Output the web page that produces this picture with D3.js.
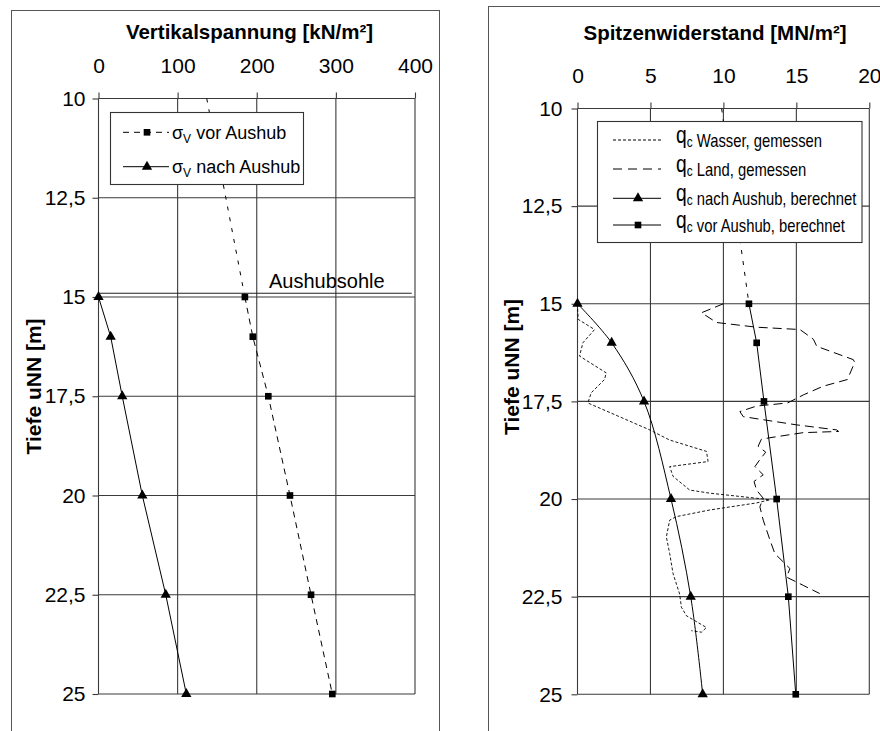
<!DOCTYPE html>
<html><head><meta charset="utf-8">
<script src="https://cdn.jsdelivr.net/npm/d3@7"></script>
<style>
body{margin:0;background:#fff}
svg{display:block}
text{font-family:"Liberation Sans",Arial,Helvetica,sans-serif;fill:#000}
</style>
</head><body>
<svg id="chart" width="880" height="731"></svg>
<script>
// ---------- data ----------
const depthTicks = [10, 12.5, 15, 17.5, 20, 22.5, 25];
const depthTickLabels = ["10", "12,5", "15", "17,5", "20", "22,5", "25"];
const stressTicks = [0, 100, 200, 300, 400];
const qcTicks = [0, 5, 10, 15, 20];

// left chart: Vertikalspannung [kN/m²]
const sigmaDepths = [15, 16, 17.5, 20, 22.5, 25];
const sigmaVor = [185, 195, 214.6, 242, 268.6, 295.5];
const sigmaNach = [0, 15.4, 30, 55.4, 85, 111];
const sigmaVorTopDepths = [10, 15];
const sigmaVorTop = [136.8, 185];

// right chart: Spitzenwiderstand [MN/m²]
const qcDepths = [15, 16, 17.5, 20, 22.5, 25];
const qcVor = [11.75, 12.28, 12.78, 13.65, 14.45, 14.96];
const qcNach = [0, 2.34, 4.56, 6.41, 7.76, 8.58];
const qcVorTopDepths = [10, 15];
const qcVorTop = [9.88, 11.75];

const wasserDepths = [15.0, 15.1, 15.4, 15.66, 16.0, 16.34, 16.77, 16.94, 17.28, 17.54, 18.23, 18.49, 18.78, 19.04, 19.17, 19.42, 19.77, 19.85, 19.98, 20.02, 20.1, 20.28, 20.45, 20.54, 20.97, 21.4, 21.91, 22.43, 22.77, 22.99, 23.29, 23.41, 23.37];
const wasserValues = [0.0, 0.0, 0.05, 1.17, 0.37, 0.14, 1.97, 1.85, 0.94, 0.71, 4.95, 6.32, 8.84, 8.95, 6.32, 6.55, 7.69, 9.07, 12.27, 13.19, 12.27, 9.07, 6.78, 6.32, 6.09, 6.32, 6.55, 7.0, 7.12, 7.47, 8.84, 8.5, 7.8];

const landDepths = [15.0, 15.23, 15.48, 15.6, 15.66, 15.91, 16.09, 16.43, 16.5, 16.94, 17.11, 17.33, 17.54, 17.62, 17.76, 17.89, 18.1, 18.23, 18.27, 18.3, 18.43, 18.47, 18.65, 18.8, 18.99, 19.17, 19.38, 19.55, 19.77, 19.98, 20.2, 20.54, 21.05, 21.4, 21.61, 21.78, 22.0, 22.21, 22.42];
const landValues = [10.0, 8.5, 9.53, 12.27, 15.25, 16.17, 16.4, 18.9, 19.0, 18.5, 16.85, 15.5, 14.4, 12.27, 11.13, 11.36, 15.0, 17.77, 17.9, 15.47, 13.19, 12.6, 12.38, 12.9, 12.5, 12.16, 12.73, 12.1, 12.27, 12.73, 12.5, 12.73, 13.19, 13.53, 14.1, 14.56, 14.33, 15.47, 16.6];

const leftTitle = "Vertikalspannung [kN/m²]";
const rightTitle = "Spitzenwiderstand [MN/m²]";
const yTitle = "Tiefe uNN [m]";

// ---------- drawing ----------
const svg = d3.select("#chart");
const gridColor = "#3a3a3a";

// outer frames
svg.append("rect").attr("x", 11.5).attr("y", 10.5).attr("width", 428).attr("height", 800)
  .attr("fill", "none").attr("stroke", "#555").attr("stroke-width", 1);
svg.append("rect").attr("x", 488.5).attr("y", 6.5).attr("width", 500).attr("height", 800)
  .attr("fill", "none").attr("stroke", "#555").attr("stroke-width", 1);

function panel(cfg) {
  const g = svg.append("g");
  const x = d3.scaleLinear().domain(cfg.xDomain).range(cfg.xRange);
  const y = d3.scaleLinear().domain([10, 25]).range(cfg.yRange);
  const [x0, x1] = cfg.xRange, [y0, y1] = cfg.yRange;

  // grid
  g.append("g").selectAll("line").data(cfg.xTicks).join("line")
    .attr("x1", d => x(d)).attr("x2", d => x(d)).attr("y1", y0).attr("y2", y1)
    .attr("stroke", gridColor).attr("stroke-width", 1.1);
  g.append("g").selectAll("line").data(depthTicks).join("line")
    .attr("x1", x0).attr("x2", x1).attr("y1", d => y(d)).attr("y2", d => y(d))
    .attr("stroke", gridColor).attr("stroke-width", 1.1);

  // axes
  const ax = g.append("g").attr("transform", `translate(0,${y0})`)
    .call(d3.axisTop(x).tickValues(cfg.xTicks).tickSize(6).tickPadding(20).tickFormat(d3.format("d")));
  const ay = g.append("g").attr("transform", `translate(${x0},0)`)
    .call(d3.axisLeft(y).tickValues(depthTicks).tickSize(6).tickPadding(cfg.yPad)
      .tickFormat((d, i) => depthTickLabels[i]));
  [ax, ay].forEach(a => {
    a.attr("font-size", 21).attr("font-family", '"Liberation Sans",Arial,sans-serif');
    a.select(".domain").remove();
    a.selectAll(".tick line").attr("stroke", gridColor).attr("stroke-width", 1.1);
    a.selectAll("text").attr("font-size", 21).attr("fill", "#000");
  });

  // titles
  g.append("text").attr("x", cfg.titleX).attr("y", cfg.titleY).attr("text-anchor", "middle")
    .attr("font-size", 20.5).attr("font-weight", "bold").text(cfg.title);
  g.append("text").attr("transform", `translate(${cfg.yTitleX},${cfg.yTitleY}) rotate(-90)`)
    .attr("text-anchor", "middle").attr("dy", "0.35em")
    .attr("font-size", 21).attr("font-weight", "bold").text(yTitle);
  return {g, x, y};
}

const L = panel({xDomain: [0, 400], xRange: [98.5, 415], yRange: [98.5, 694], xTicks: stressTicks,
  yPad: 7, title: leftTitle, titleX: 249.5, titleY: 38.5, yTitleX: 34, yTitleY: 386.5});
const R = panel({xDomain: [0, 20], xRange: [577.5, 869.3], yRange: [108.5, 694.3], xTicks: qcTicks,
  yPad: 9, title: rightTitle, titleX: 715, titleY: 39.5, yTitleX: 512, yTitleY: 367});

const sq = d3.symbol().type(d3.symbolSquare).size(44);
const tri = d3.symbol().type(d3.symbolTriangle).size(46);

function series(P, depths, vals, opts) {
  const pts = depths.map((d, i) => [P.x(vals[i]), P.y(d)]);
  const line = d3.line().curve(opts.curve || d3.curveLinear);
  P.g.append("path").attr("d", line(pts)).attr("fill", "none")
    .attr("stroke", "#000").attr("stroke-width", opts.w || 1)
    .attr("stroke-dasharray", opts.dash || null);
  if (opts.marker) {
    P.g.append("g").selectAll("path").data(pts).join("path")
      .attr("transform", d => `translate(${d[0]},${d[1]})`)
      .attr("d", opts.marker).attr("fill", "#000");
  }
}

// left chart series
series(L, sigmaVorTopDepths, sigmaVorTop, {dash: "4,7"});
series(L, sigmaDepths, sigmaVor, {dash: "6,5", marker: sq});
series(L, sigmaDepths, sigmaNach, {marker: tri});

// Aushubsohle
L.g.append("line").attr("x1", 98.5).attr("x2", 411.7).attr("y1", 293.3).attr("y2", 293.3)
  .attr("stroke", "#222").attr("stroke-width", 1.1);
L.g.append("text").attr("x", 269).attr("y", 288).attr("font-size", 20).text("Aushubsohle");

// right chart series
series(R, wasserDepths, wasserValues, {dash: "3,2", w: 0.9});
series(R, landDepths, landValues, {dash: "9,5", w: 1});
series(R, qcVorTopDepths, qcVorTop, {dash: "4,7"});
series(R, qcDepths, qcVor, {marker: sq});
series(R, qcDepths, qcNach, {marker: tri, curve: d3.curveCatmullRom});

// left legend
const lg = svg.append("g");
lg.append("rect").attr("x", 110.5).attr("y", 112.5).attr("width", 193).attr("height", 72)
  .attr("fill", "#fff").attr("stroke", "#333").attr("stroke-width", 1.1);
const leftLegend = [
  {y: 132.3, dash: "6,5", marker: sq, name: " vor Aushub"},
  {y: 166.7, dash: null, marker: tri, name: " nach Aushub"}
];
leftLegend.forEach(e => {
  lg.append("line").attr("x1", 123).attr("x2", 169).attr("y1", e.y).attr("y2", e.y)
    .attr("stroke", "#000").attr("stroke-dasharray", e.dash);
  lg.append("path").attr("transform", `translate(147,${e.y})`).attr("d", e.marker).attr("fill", "#000");
  const t = lg.append("text").attr("x", 172).attr("y", e.y + 6.5).attr("font-size", 18);
  t.append("tspan").text("σ");
  t.append("tspan").attr("font-size", 12).attr("dy", 4).text("V");
  t.append("tspan").attr("dy", -4).text(e.name);
});

// right legend
const rg = svg.append("g");
rg.append("rect").attr("x", 597.5).attr("y", 121.5).attr("width", 264.5).attr("height", 121)
  .attr("fill", "#fff").attr("stroke", "#333").attr("stroke-width", 1.1);
const rightLegend = [
  {y: 140, dash: "3,2", marker: null, name: "Wasser, gemessen"},
  {y: 169, dash: "9,6", marker: null, name: "Land, gemessen"},
  {y: 198.3, dash: null, marker: tri, name: "nach Aushub, berechnet"},
  {y: 225, dash: null, marker: sq, name: "vor Aushub, berechnet"}
];
rightLegend.forEach(e => {
  rg.append("line").attr("x1", 613).attr("x2", 661).attr("y1", e.y).attr("y2", e.y)
    .attr("stroke", "#000").attr("stroke-dasharray", e.dash);
  if (e.marker) rg.append("path").attr("transform", `translate(638,${e.y})`).attr("d", e.marker).attr("fill", "#000");
  const t = rg.append("text").attr("transform", `translate(676,${e.y + 6.5}) scale(0.8,1)`).attr("font-size", 18.5);
  t.append("tspan").attr("font-size", 24).attr("dy", -3.5).text("q");
  t.append("tspan").attr("font-size", 15).attr("dy", 4).text("c");
  t.append("tspan").attr("dy", -0.5).text(" " + e.name);
});
</script>
</body></html>
